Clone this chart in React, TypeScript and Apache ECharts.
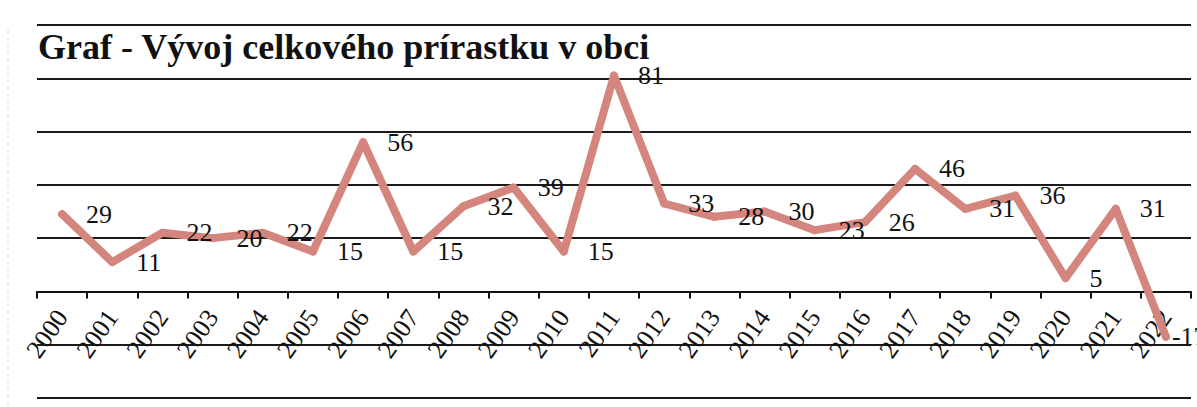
import React, { useEffect, useRef } from "react";
import * as echarts from "echarts";

const years = ["2000","2001","2002","2003","2004","2005","2006","2007","2008","2009","2010","2011","2012","2013","2014","2015","2016","2017","2018","2019","2020","2021","2022"];
const values = [29, 11, 22, 20, 22, 15, 56, 15, 32, 39, 15, 81, 33, 28, 30, 23, 26, 46, 31, 36, 5, 31, -17];
const titleText = "Graf - Vývoj celkového prírastku v obci";

const FONT = "'Liberation Serif', 'Times New Roman', serif";
const Y_MIN = -40;
const Y_MAX = 100;
const GRID_TOP = 25;
const GRID_BOTTOM = 9;
const H = 407;

export default function App() {
  const ref = useRef<HTMLDivElement>(null);
  useEffect(() => {
    const chart = echarts.init(ref.current!, null, { renderer: "svg" });
    const seriesData = values.map((v, i) =>
      i === values.length - 1 ? { value: v, label: { distance: 2 } } : v
    );
    const gridH = H - GRID_TOP - GRID_BOTTOM;
    const zeroOffset = (-Y_MIN / (Y_MAX - Y_MIN)) * gridH;
    chart.setOption({
      animation: false,
      backgroundColor: "#ffffff",
      title: {
        text: titleText,
        left: 33,
        top: 24,
        textStyle: { fontFamily: FONT, fontWeight: "bold", fontSize: 36, color: "#111" },
      },
      grid: { left: 37, right: 6, top: GRID_TOP, bottom: GRID_BOTTOM, containLabel: false, outerBoundsMode: "none" },
      xAxis: {
        type: "category",
        data: years,
        boundaryGap: true,
        position: "bottom",
        offset: -zeroOffset,
        axisLine: { onZero: false, lineStyle: { color: "#111", width: 2 } },
        axisTick: { show: true, length: 7, lineStyle: { color: "#111", width: 2 } },
        axisLabel: {
          show: true,
          rotate: 55,
          margin: 21,
          interval: 0,
          hideOverlap: false,
          fontFamily: FONT,
          fontSize: 26,
          color: "#111",
        },
        splitLine: { show: false },
      },
      yAxis: {
        type: "value",
        min: Y_MIN,
        max: Y_MAX,
        interval: 20,
        axisLine: { show: false },
        axisTick: { show: false },
        axisLabel: { show: false },
        splitLine: { show: true, lineStyle: { color: "#1a1a1a", width: 2 } },
      },
      graphic: [
        {
          type: "line",
          shape: { x1: 8, y1: 30, x2: 8, y2: 407 },
          style: { stroke: "#d8d8d8", lineWidth: 1, lineDash: [4, 3] },
        },
      ],
      series: [
        {
          type: "line",
          data: seriesData,
          symbol: "circle",
          symbolSize: 8,
          itemStyle: { color: "#d4857e" },
          lineStyle: { color: "#d4857e", width: 8, join: "round", cap: "round" },
          label: {
            show: true,
            position: "right",
            distance: 20,
            fontFamily: FONT,
            fontSize: 26,
            color: "#111",
          },
          z: 3,
        },
      ],
    });
    return () => chart.dispose();
  }, []);
  return (
    <div
      ref={ref}
      style={{ position: "fixed", left: 0, top: 0, width: 1197, height: 407 }}
    />
  );
}
